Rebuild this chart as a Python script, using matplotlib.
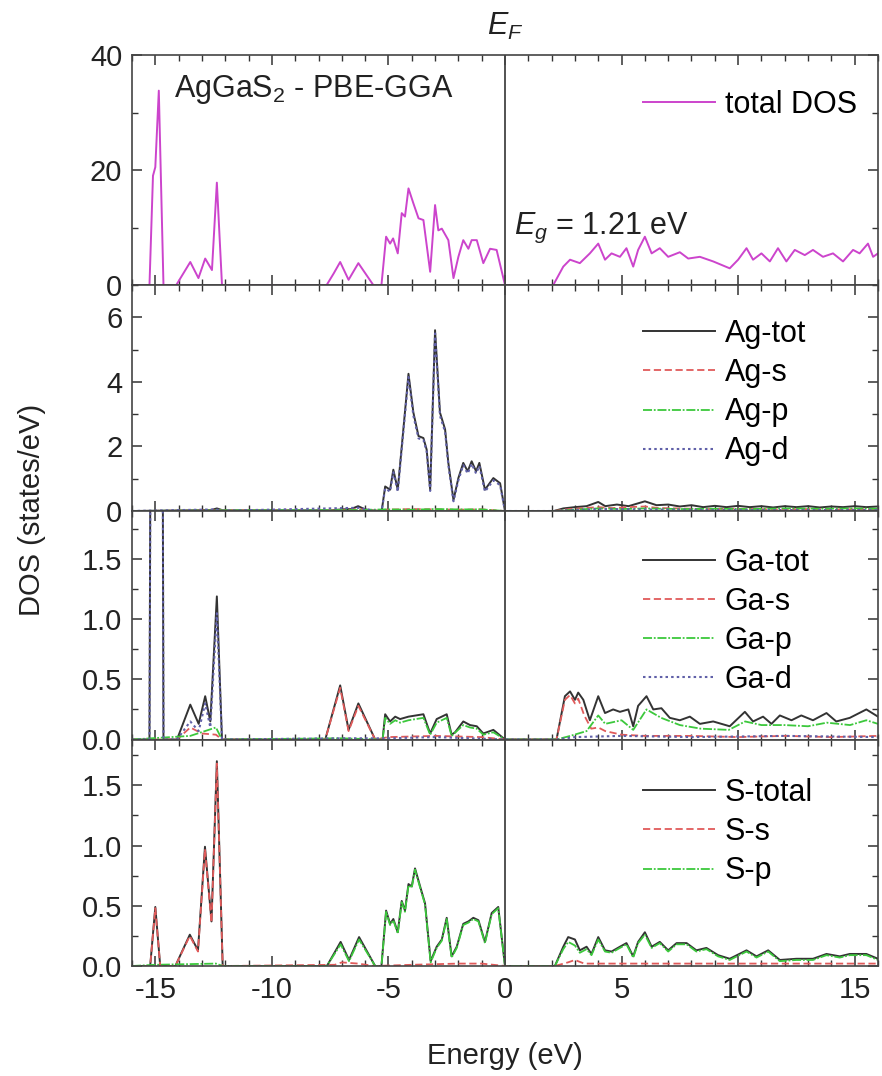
import matplotlib
matplotlib.use("Agg")
import matplotlib.pyplot as plt
from matplotlib.ticker import MultipleLocator, FormatStrFormatter

plt.rcParams['font.family'] = ['Liberation Sans', 'DejaVu Sans']
plt.rcParams['mathtext.fontset'] = 'custom'
plt.rcParams['mathtext.it'] = 'Liberation Sans:italic'
plt.rcParams['mathtext.rm'] = 'Liberation Sans'
plt.rcParams['axes.unicode_minus'] = False

# (energy in eV, DOS in states/eV)
total_dos = [(-16, 0), (-15.25, 0), (-15.1, 19), (-15.0, 20.5), (-14.85, 33.8), (-14.65, 0),
             (-14.1, 0), (-13.8, 2), (-13.5, 4.0), (-13.15, 1.2), (-12.86, 4.6), (-12.57, 2.6),
             (-12.36, 17.8), (-12.14, 0), (-7.65, 0), (-7.35, 2), (-7.07, 4.0), (-6.71, 0.9),
             (-6.29, 3.8), (-5.65, 0), (-5.3, 0), (-5.1, 8.4), (-4.93, 7.2), (-4.8, 8.1),
             (-4.6, 5.5), (-4.43, 12.5), (-4.29, 11.9), (-4.14, 16.8), (-3.93, 14.2),
             (-3.71, 11.6), (-3.5, 11.3), (-3.21, 2.3), (-3.0, 13.9), (-2.86, 9.5), (-2.71, 9.8),
             (-2.43, 7.8), (-2.21, 1.2), (-2.0, 4.9), (-1.79, 7.8), (-1.57, 6.3), (-1.43, 7.8),
             (-1.21, 7.8), (-0.93, 3.8), (-0.64, 6.3), (-0.36, 6.1), (0, 0), (2.07, 0),
             (2.5, 3.2), (2.79, 4.4), (3.21, 3.8), (3.64, 5.5), (4.0, 7.2), (4.29, 4.4),
             (4.57, 5.5), (4.93, 4.9), (5.21, 6.4), (5.5, 3.2), (5.71, 6.1), (6.0, 8.4),
             (6.29, 5.5), (6.64, 6.4), (7.0, 4.9), (7.5, 5.7), (7.86, 4.6), (8.36, 4.9),
             (8.93, 4.1), (9.64, 2.9), (10.0, 4.4), (10.36, 6.4), (10.64, 4.4), (11.0, 5.5),
             (11.36, 4.1), (11.71, 6.4), (12.07, 4.1), (12.43, 6.1), (12.86, 5.2), (13.21, 6.1),
             (13.64, 4.9), (14.07, 5.5), (14.5, 4.1), (14.93, 6.1), (15.21, 5.5), (15.57, 7.2),
             (15.79, 4.9), (16, 5.5)]

ag_tot = [(-16, 0), (-13.6, 0.02), (-12.6, 0.03), (-12.36, 0.08), (-12.1, 0.02), (-7.5, 0.02),
          (-7.0, 0.05), (-6.6, 0.06), (-6.3, 0.15), (-6.0, 0.05), (-5.6, 0.01), (-5.29, 0),
          (-5.14, 0.76), (-4.93, 0.66), (-4.79, 1.28), (-4.6, 0.66), (-4.36, 2.53), (-4.14, 4.25),
          (-3.93, 3.05), (-3.71, 2.32), (-3.5, 2.26), (-3.36, 1.9), (-3.21, 0.66), (-3.0, 5.6),
          (-2.79, 3.05), (-2.57, 2.53), (-2.43, 1.49), (-2.21, 0.34), (-2.0, 1.02), (-1.79, 1.49),
          (-1.6, 1.23), (-1.43, 1.54), (-1.24, 1.23), (-1.1, 1.49), (-0.86, 0.66), (-0.5, 1.02),
          (-0.21, 0.86), (0, 0), (2.1, 0), (2.5, 0.08), (3.0, 0.12), (3.5, 0.15), (4.0, 0.28),
          (4.3, 0.15), (4.8, 0.2), (5.3, 0.15), (6.0, 0.3), (6.5, 0.18), (7.0, 0.2), (7.5, 0.14),
          (8.0, 0.18), (8.5, 0.12), (9.0, 0.16), (9.5, 0.12), (10.0, 0.16), (10.5, 0.12),
          (11.0, 0.15), (11.5, 0.11), (12.0, 0.15), (12.5, 0.12), (13.0, 0.15), (13.5, 0.11),
          (14.0, 0.14), (14.5, 0.12), (15.0, 0.15), (15.5, 0.12), (16, 0.14)]
ag_s = [(-16, 0), (-12.4, 0.02), (-7.0, 0.02), (-6.3, 0.06), (-5.6, 0.01), (-5.1, 0.04),
        (-4.0, 0.06), (-3.0, 0.05), (-2.0, 0.04), (-1.0, 0.05), (0, 0), (2.1, 0), (2.6, 0.05),
        (3.2, 0.08), (4.0, 0.12), (4.6, 0.09), (5.3, 0.12), (6.0, 0.14), (6.6, 0.09),
        (7.4, 0.08), (8.5, 0.06), (10.0, 0.07), (11.5, 0.05), (13.0, 0.06), (14.5, 0.05), (16, 0.06)]
ag_p = [(-16, 0), (-12.4, 0.02), (-6.3, 0.03), (-5.1, 0.05), (-4.0, 0.04), (-3.0, 0.06),
        (-2.0, 0.05), (-1.0, 0.05), (0, 0), (2.1, 0), (3.0, 0.04), (4.0, 0.08), (5.0, 0.06),
        (6.0, 0.08), (7.5, 0.06), (9.0, 0.07), (10.5, 0.06), (12.0, 0.08), (13.5, 0.07),
        (15.0, 0.08), (16, 0.07)]
ag_d = [(-16, 0), (-12.4, 0.05), (-12.1, 0.01), (-6.3, 0.1), (-5.6, 0.01), (-5.29, 0),
        (-5.14, 0.7), (-4.93, 0.6), (-4.79, 1.2), (-4.6, 0.6), (-4.36, 2.45), (-4.14, 4.15),
        (-3.93, 2.95), (-3.71, 2.25), (-3.5, 2.2), (-3.36, 1.85), (-3.21, 0.62), (-3.0, 5.5),
        (-2.79, 2.95), (-2.57, 2.45), (-2.43, 1.42), (-2.21, 0.3), (-2.0, 0.95), (-1.79, 1.42),
        (-1.6, 1.16), (-1.43, 1.46), (-1.24, 1.16), (-1.1, 1.4), (-0.86, 0.6), (-0.5, 0.95),
        (-0.21, 0.8), (0, 0), (2.1, 0), (3.0, 0.03), (4.0, 0.06), (6.0, 0.05), (9.0, 0.03),
        (12.0, 0.03), (16, 0.03)]

ga_tot = [(-16, 0), (-15.25, 0), (-15.1, 9), (-14.85, 15), (-14.65, 0), (-14.07, 0),
          (-13.5, 0.29), (-13.14, 0.13), (-12.86, 0.36), (-12.64, 0.15), (-12.36, 1.19),
          (-12.14, 0), (-7.71, 0), (-7.07, 0.45), (-6.71, 0.08), (-6.29, 0.30), (-5.57, 0),
          (-5.25, 0), (-5.14, 0.21), (-4.93, 0.15), (-4.71, 0.19), (-4.5, 0.17), (-4.14, 0.19),
          (-3.5, 0.21), (-3.21, 0.05), (-2.93, 0.17), (-2.5, 0.21), (-2.29, 0.04), (-2.14, 0.06),
          (-1.79, 0.15), (-1.5, 0.12), (-1.21, 0.11), (-0.93, 0.05), (-0.5, 0.08), (0, 0),
          (2.21, 0), (2.57, 0.36), (2.79, 0.40), (3.0, 0.33), (3.14, 0.39), (3.36, 0.33),
          (3.64, 0.16), (4.0, 0.36), (4.29, 0.22), (4.64, 0.25), (4.93, 0.23), (5.29, 0.25),
          (5.5, 0.11), (5.71, 0.28), (6.07, 0.36), (6.36, 0.25), (6.71, 0.26), (7.07, 0.18),
          (7.5, 0.16), (7.93, 0.19), (8.36, 0.13), (8.93, 0.15), (9.64, 0.11), (10.29, 0.23),
          (10.64, 0.15), (11.07, 0.19), (11.43, 0.13), (11.79, 0.20), (12.29, 0.16),
          (12.71, 0.20), (13.21, 0.16), (13.79, 0.22), (14.21, 0.15), (14.79, 0.18),
          (15.5, 0.25), (16, 0.19)]
ga_s = [(-16, 0), (-14.07, 0), (-13.5, 0.1), (-13.0, 0.05), (-12.4, 0.04), (-12.14, 0),
        (-7.71, 0), (-7.07, 0.43), (-6.71, 0.07), (-6.29, 0.28), (-5.57, 0), (-5.0, 0.02),
        (-3.0, 0.03), (-1.0, 0.02), (0, 0), (2.21, 0), (2.57, 0.33), (2.79, 0.37), (3.0, 0.3),
        (3.14, 0.34), (3.4, 0.2), (3.7, 0.09), (4.0, 0.1), (4.3, 0.07), (5.0, 0.04), (6.0, 0.03),
        (8.0, 0.03), (10.0, 0.02), (12.0, 0.03), (14.0, 0.02), (16, 0.03)]
ga_p = [(-16, 0), (-13.5, 0.03), (-12.4, 0.1), (-12.14, 0), (-7.07, 0.01), (-5.25, 0),
        (-5.14, 0.18), (-4.93, 0.13), (-4.71, 0.16), (-4.5, 0.14), (-4.14, 0.16), (-3.5, 0.18),
        (-3.21, 0.04), (-2.93, 0.14), (-2.5, 0.18), (-2.29, 0.03), (-1.79, 0.12), (-1.5, 0.1),
        (-1.21, 0.09), (-0.93, 0.04), (-0.5, 0.06), (0, 0), (2.21, 0), (2.8, 0.03), (3.5, 0.07),
        (4.0, 0.2), (4.3, 0.13), (5.0, 0.16), (5.5, 0.08), (6.07, 0.25), (6.7, 0.18), (7.5, 0.12),
        (8.4, 0.09), (9.6, 0.08), (10.3, 0.15), (11.0, 0.12), (12.0, 0.12), (13.0, 0.11),
        (13.8, 0.14), (14.8, 0.12), (15.5, 0.16), (16, 0.13)]
ga_d = [(-16, 0), (-15.25, 0), (-15.1, 8.5), (-14.85, 14.5), (-14.65, 0), (-14.07, 0),
        (-13.5, 0.15), (-13.14, 0.07), (-12.86, 0.3), (-12.64, 0.1), (-12.36, 1.05),
        (-12.14, 0), (-7.0, 0.01), (-5.0, 0.01), (-3.0, 0.02), (0, 0), (2.21, 0), (3.0, 0.02),
        (5.0, 0.03), (8.0, 0.02), (12.0, 0.03), (16, 0.02)]

s_total = [(-16, 0), (-15.22, 0), (-15.0, 0.49), (-14.79, 0), (-14.14, 0), (-13.52, 0.26),
           (-13.17, 0.13), (-12.87, 0.99), (-12.59, 0.37), (-12.36, 1.70), (-12.11, 0),
           (-7.64, 0), (-7.05, 0.20), (-6.69, 0.05), (-6.26, 0.24), (-5.57, 0), (-5.3, 0),
           (-5.1, 0.46), (-4.93, 0.35), (-4.79, 0.39), (-4.6, 0.28), (-4.43, 0.54), (-4.29, 0.46),
           (-4.14, 0.68), (-4.0, 0.66), (-3.86, 0.81), (-3.64, 0.66), (-3.43, 0.52), (-3.19, 0.04),
           (-2.93, 0.16), (-2.71, 0.22), (-2.5, 0.40), (-2.29, 0.08), (-2.07, 0.16), (-1.79, 0.35),
           (-1.57, 0.37), (-1.36, 0.40), (-1.14, 0.38), (-0.86, 0.20), (-0.57, 0.44),
           (-0.29, 0.49), (0, 0), (2.14, 0), (2.5, 0.16), (2.71, 0.24), (3.0, 0.22), (3.21, 0.13),
           (3.5, 0.16), (3.71, 0.10), (4.0, 0.24), (4.29, 0.13), (4.57, 0.12), (4.93, 0.16),
           (5.21, 0.19), (5.5, 0.08), (5.71, 0.20), (6.0, 0.28), (6.29, 0.16), (6.64, 0.20),
           (7.0, 0.13), (7.36, 0.19), (7.79, 0.19), (8.21, 0.13), (8.64, 0.15), (9.14, 0.09),
           (9.64, 0.06), (10.36, 0.13), (10.79, 0.08), (11.29, 0.13), (11.79, 0.05),
           (12.5, 0.06), (13.21, 0.06), (13.79, 0.10), (14.36, 0.08), (14.79, 0.10),
           (15.5, 0.10), (16, 0.06)]
s_s = [(-16, 0), (-15.22, 0), (-15.0, 0.48), (-14.79, 0), (-14.14, 0), (-13.52, 0.25),
       (-13.17, 0.12), (-12.87, 0.97), (-12.59, 0.36), (-12.36, 1.68), (-12.11, 0),
       (-7.3, 0.01), (-7.0, 0.03), (-6.3, 0.02), (-5.6, 0), (-4.0, 0.01), (-2.0, 0.02),
       (-1.0, 0.02), (0, 0), (2.14, 0), (2.7, 0.03), (3.0, 0.05), (3.4, 0.02), (5.0, 0.02),
       (7.0, 0.02), (10.0, 0.02), (13.0, 0.02), (16, 0.02)]
s_p = [(-16, 0), (-15.0, 0.01), (-12.4, 0.02), (-12.11, 0), (-7.64, 0), (-7.05, 0.18),
       (-6.69, 0.04), (-6.26, 0.22), (-5.57, 0), (-5.3, 0), (-5.1, 0.45), (-4.93, 0.34),
       (-4.79, 0.38), (-4.6, 0.27), (-4.43, 0.53), (-4.29, 0.45), (-4.14, 0.67), (-4.0, 0.65),
       (-3.86, 0.80), (-3.64, 0.65), (-3.43, 0.51), (-3.19, 0.03), (-2.93, 0.15), (-2.71, 0.21),
       (-2.5, 0.39), (-2.29, 0.07), (-2.07, 0.15), (-1.79, 0.34), (-1.57, 0.36), (-1.36, 0.39),
       (-1.14, 0.37), (-0.86, 0.19), (-0.57, 0.43), (-0.29, 0.48), (0, 0), (2.14, 0),
       (2.5, 0.14), (2.71, 0.2), (3.0, 0.17), (3.21, 0.11), (3.5, 0.14), (3.71, 0.09),
       (4.0, 0.22), (4.29, 0.12), (4.57, 0.11), (4.93, 0.15), (5.21, 0.18), (5.5, 0.07),
       (5.71, 0.19), (6.0, 0.26), (6.29, 0.15), (6.64, 0.19), (7.0, 0.12), (7.36, 0.18),
       (7.79, 0.18), (8.21, 0.12), (8.64, 0.14), (9.14, 0.08), (9.64, 0.05), (10.36, 0.12),
       (10.79, 0.07), (11.29, 0.12), (11.79, 0.04), (12.5, 0.05), (13.21, 0.05), (13.79, 0.09),
       (14.36, 0.07), (14.79, 0.09), (15.5, 0.09), (16, 0.05)]

C_TOT = '#cc44cc'
C_BLACK = '#333333'
C_S = '#e05a5a'
C_P = '#3cc83c'
C_D = '#6060a8'

FS = 21      # tick labels
FS_TXT = 22  # legends and annotations


def draw(ax, pts, **kw):
    e, v = zip(*pts)
    ax.plot(e, v, **kw)


fig = plt.figure(figsize=(8.82, 10.76), dpi=100)
tops = [55, 285, 511, 739.5]
bots = [285, 511, 739.5, 966]
H = 1076.0
axes = []
for t, b in zip(tops, bots):
    ax = fig.add_axes([132 / 882, 1 - b / H, (878 - 132) / 882, (b - t) / H],
                      sharex=axes[0] if axes else None)
    axes.append(ax)
ax1, ax2, ax3, ax4 = axes

draw(ax1, total_dos, color=C_TOT, lw=1.4, label='total DOS')

draw(ax2, ag_tot, color=C_BLACK, lw=1.4, label='Ag-tot')
draw(ax2, ag_s, color=C_S, lw=1.3, ls=(0, (4, 2)), label='Ag-s')
draw(ax2, ag_p, color=C_P, lw=1.3, ls=(0, (5, 1, 1, 1)), label='Ag-p')
draw(ax2, ag_d, color=C_D, lw=1.5, ls=(0, (1.2, 1.5)), label='Ag-d')

draw(ax3, ga_tot, color=C_BLACK, lw=1.4, label='Ga-tot')
draw(ax3, ga_s, color=C_S, lw=1.3, ls=(0, (4, 2)), label='Ga-s')
draw(ax3, ga_p, color=C_P, lw=1.3, ls=(0, (5, 1, 1, 1)), label='Ga-p')
draw(ax3, ga_d, color=C_D, lw=1.5, ls=(0, (1.2, 1.5)), label='Ga-d')

draw(ax4, s_total, color=C_BLACK, lw=1.4, label='S-total')
draw(ax4, s_s, color=C_S, lw=1.3, ls=(0, (4, 2)), label='S-s')
draw(ax4, s_p, color=C_P, lw=1.3, ls=(0, (5, 1, 1, 1)), label='S-p')

ax1.set_ylim(0, 40)
ax2.set_ylim(0, 7)
ax3.set_ylim(0, 1.9)
ax4.set_ylim(0, 1.88)
ax1.set_yticks([0, 20, 40])
ax2.set_yticks([0, 2, 4, 6])
ax1.yaxis.set_minor_locator(MultipleLocator(10))
ax2.yaxis.set_minor_locator(MultipleLocator(1))
for ax in (ax3, ax4):
    ax.set_yticks([0, 0.5, 1.0, 1.5])
    ax.yaxis.set_minor_locator(MultipleLocator(0.25))
    ax.yaxis.set_major_formatter(FormatStrFormatter('%.1f'))

ax4.set_xlim(-16, 16)
ax4.set_xticks([-15, -10, -5, 0, 5, 10, 15])
ax4.xaxis.set_minor_locator(MultipleLocator(1))

legend_tops = [0.848, 0.85, 0.84, 0.83]
for ax, ly in zip(axes, legend_tops):
    ax.axvline(0, color='#444444', lw=1.3)
    ax.tick_params(which='both', direction='in', top=True, right=True, labelsize=FS,
                   colors='#333333', labelcolor='#222222')
    ax.tick_params(which='major', length=7, width=1.1, pad=7)
    ax.tick_params(which='minor', length=4, width=1.0)
    for sp in ax.spines.values():
        sp.set_color('#444444')
        sp.set_linewidth(1.2)
    if ax is not ax4:
        ax.tick_params(labelbottom=False)
    ax.legend(loc='upper left', bbox_to_anchor=(0.685, ly), frameon=False, fontsize=FS_TXT,
              handlelength=2.35, handletextpad=0.33, labelspacing=0.3,
              borderaxespad=0, borderpad=0)

ax1.text(-14.2, 34, 'AgGaS$_2$ - PBE-GGA', fontsize=FS_TXT, va='center', ha='left',
         color='#222222')
ax1.text(0.4, 10, '$E_g$ = 1.21 eV', fontsize=FS_TXT, va='center', ha='left', color='#222222')
fig.text(505 / 882, 1 - 26 / H, '$E_F$', fontsize=FS_TXT, ha='center', va='center',
         color='#222222')

fig.text(0.036, 0.526, 'DOS (states/eV)', rotation=90, fontsize=FS, ha='center', va='center',
         color='#222222')
fig.text(505 / 882, 1 - 1064 / H, 'Energy (eV)', fontsize=FS, ha='center', va='baseline',
         color='#222222')

fig.savefig('out.png', dpi=100)
